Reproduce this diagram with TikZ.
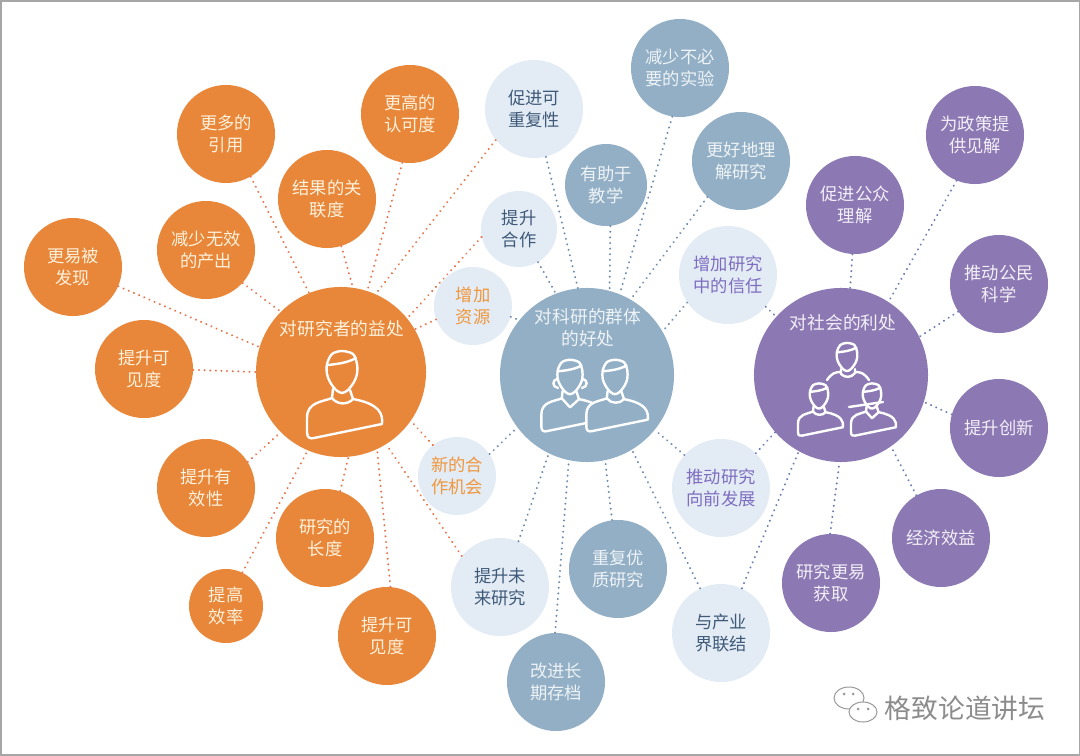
\documentclass[tikz,border=0pt]{standalone}
\usepackage{fontspec}
\usepackage{xcolor}
\newfontfamily\cjk{Noto Sans CJK SC}
\usetikzlibrary{positioning, calc}

\definecolor{orangemain}{HTML}{E8863A}
\definecolor{bluemain}{HTML}{92AFC6}
\definecolor{purplemain}{HTML}{8C79B3}
\definecolor{lightmain}{HTML}{E3ECF5}
\definecolor{orangetext}{HTML}{FFF2DC}
\definecolor{bluetext}{HTML}{EEF3F6}
\definecolor{purpletext}{HTML}{F3EFF8}
\definecolor{darktext}{HTML}{3F5A78}
\definecolor{lightorange}{HTML}{F0963C}
\definecolor{lightpurple}{HTML}{7E6DC0}
\definecolor{orangeline}{HTML}{E8744A}
\definecolor{blueline}{HTML}{6E8DAE}
\definecolor{purpleline}{HTML}{6B7DB0}

\newcommand{\headshape}{
  \path[icon, pic actions] plot[smooth cycle] coordinates {(-15,-8) (-10,-18) (0,-21) (11,-18) (15,-8) (15,2) (12,10) (6,18) (0,21) (-6,18) (-12,10) (-15,2)};
  \path[icon] (-14,-7) .. controls (-5,-8) and (5,-9) .. (14,-14);
}
\newcommand{\bodyshape}[1]{
  \path[icon, pic actions] (-10,26) .. controls (-20,30) and (-35,30) .. (-35,46) -- (-35,60) .. controls (-35,66) and (-32,67) .. (-28,66) -- (40,52) .. controls (41,42) and (38,32) .. (11,27) #1 (-10,26) -- cycle;
  \path[icon] (-9,17) -- (-10,26) (8,18) -- (11,27);
}

\begin{document}
\begin{tikzpicture}[
  x=0.025cm, y=-0.025cm,
  circ/.style={circle, inner sep=0pt, minimum size=2.45cm, align=center, font=\cjk\fontsize{12.3}{15.6}\selectfont},
  orangenode/.style={circ, fill=orangemain, text=orangetext},
  bluenode/.style={circ, fill=bluemain, text=bluetext},
  purplenode/.style={circ, fill=purplemain, text=purpletext},
  lightnode/.style={circ, fill=lightmain, text=darktext},
  titletext/.style={align=center, inner sep=0pt, font=\cjk\fontsize{12.6}{15.6}\selectfont},
  dots/.style={line width=1.5pt, line cap=round, dash pattern=on 0.1pt off 3.9pt},
  dotorange/.style={dots, color=orangeline},
  dotblue/.style={dots, color=blueline},
  dotpurple/.style={dots, color=purpleline},
  icon/.style={draw=white, line width=1.7pt, line join=round, line cap=round},
  personhead/.pic={\headshape},
  person/.pic={\bodyshape{.. controls (6,33) and (-5,33) ..}\headshape},
  personv/.pic={\bodyshape{-- (0,37) --}\headshape},
]

\useasboundingbox (0,0) rectangle (1080,756);
\fill[gray!70] (0,0) rectangle (1080,756);
\fill[white] (2,2) rectangle (1079,754);

% ================= orange group =================
\node[orangenode, minimum size=4.25cm] (researcher) at (341,372) {};
\node[orangenode] (recognition) at (410,114) {更高的\\认可度};
\node[orangenode] (citations) at (226,134) {更多的\\引用};
\node[orangenode] (relevance) at (327,199) {结果的关\\联度};
\node[orangenode] (waste) at (206,250) {减少无效\\的产出};
\node[orangenode] (discover) at (73,267) {更易被\\发现};
\node[orangenode] (visible) at (144,369) {提升可\\见度};
\node[orangenode] (validity) at (206,488) {提升有\\效性};
\node[orangenode] (length) at (325,538) {研究的\\长度};
\node[orangenode, minimum size=1.85cm] (efficiency) at (226,606) {提高\\效率};
\node[orangenode] (visibletwo) at (387,636) {提升可\\见度};

% ================= blue group =================
\node[bluenode, minimum size=4.35cm] (community) at (587,375) {};
\node[bluenode] (experiments) at (680,68) {减少不必\\要的实验};
\node[bluenode] (understand) at (741,161) {更好地理\\解研究};
\node[bluenode, minimum size=2.05cm] (teaching) at (606,185) {有助于\\教学};
\node[bluenode] (repeat) at (618,569) {重复优\\质研究};
\node[bluenode] (archive) at (556,682) {改进长\\期存档};

% ================= purple group =================
\node[purplenode, minimum size=4.35cm] (society) at (841,375) {};
\node[purplenode] (policy) at (975,135) {为政策提\\供见解};
\node[purplenode] (public) at (855,205) {促进公众\\理解};
\node[purplenode] (citizen) at (999,284) {推动公民\\科学};
\node[purplenode] (innovation) at (999,428) {提升创新};
\node[purplenode] (economy) at (941,538) {经济效益};
\node[purplenode] (access) at (831,583) {研究更易\\获取};

% ================= shared nodes =================
\node[lightnode] (reproduce) at (534,109) {促进可\\重复性};
\node[lightnode, minimum size=1.9cm] (collab) at (519,229) {提升\\合作};
\node[lightnode, minimum size=1.95cm, text=lightorange] (resources) at (473,306) {增加\\资源};
\node[lightnode, text=lightpurple] (trust) at (728,275) {增加研究\\中的信任};
\node[lightnode, minimum size=1.95cm, text=lightorange] (chance) at (457,476) {新的合\\作机会};
\node[lightnode] (future) at (500,587) {提升未\\来研究};
\node[lightnode, text=lightpurple] (forward) at (721,488) {推动研究\\向前发展};
\node[lightnode] (industry) at (721,633) {与产业\\界联结};

% ================= titles =================
\node[titletext, text=orangetext] (researchertitle) at (342,329) {对研究者的益处};
\node[titletext, text=bluetext] (communitytitle) at (588,328) {对科研的群体\\的好处};
\node[titletext, text=purpletext] (societytitle) at (843,323) {对社会的利处};

% ================= orange connectors =================
\draw[dotorange] (citations.-60) -- (researcher.112);
\draw[dotorange] (discover.-23) -- (researcher.163);
\draw[dotorange] (visible.-1) -- (researcher.180);
\draw[dotorange] (waste.-42) -- (researcher.135);
\draw[dotorange] (relevance.-73) -- (researcher.82);
\draw[dotorange] (recognition.-99) -- (researcher.72);
\draw[dotorange] (reproduce.-141) -- (researcher.66);
\draw[dotorange] (collab.-168) -- (researcher.39);
\draw[dotorange] (resources.-160) -- (researcher.30);
\draw[dotorange] (chance.128) -- (researcher.-35);
\draw[dotorange] (future.141) -- (researcher.-58);
\draw[dotorange] (visibletwo.86) -- (researcher.-65);
\draw[dotorange] (length.72) -- (researcher.-85);
\draw[dotorange] (efficiency.64) -- (researcher.-113);
\draw[dotorange] (validity.32) -- (researcher.-135);

% ================= blue connectors =================
\draw[dotblue] (reproduce.-76) -- (community.96);
\draw[dotblue] (experiments.-99) -- (community.68);
\draw[dotblue] (teaching.-84) -- (community.75);
\draw[dotblue] (understand.-133) -- (community.60);
\draw[dotblue] (collab.-60) -- (community.111);
\draw[dotblue] (resources.-16) -- (community.141);
\draw[dotblue] (trust.-146) -- (community.30);
\draw[dotblue] (chance.34) -- (community.-143);
\draw[dotblue] (future.68) -- (community.-116);
\draw[dotblue] (archive.91) -- (community.-102);
\draw[dotblue] (repeat.97) -- (community.-78);
\draw[dotblue] (industry.115) -- (community.-59);
\draw[dotblue] (forward.138) -- (community.-39);

% ================= purple connectors =================
\draw[dotpurple] (trust.-40) -- (society.138);
\draw[dotpurple] (public.-93) -- (society.84);
\draw[dotpurple] (policy.-112) -- (society.57);
\draw[dotpurple] (citizen.-146) -- (society.26);
\draw[dotpurple] (innovation.164) -- (society.-18);
\draw[dotpurple] (forward.45) -- (society.-139);
\draw[dotpurple] (industry.65) -- (society.-119);
\draw[dotpurple] (access.91) -- (society.-91);
\draw[dotpurple] (economy.120) -- (society.-55);

% ================= icons =================
\path (342,372) pic {person};

\path (570,377) pic[scale=0.82, fill=bluemain] {personv};
\draw[icon] (557,379) .. controls (552,380) and (552,387) .. (558,388);
\draw[icon] (583,379) .. controls (588,380) and (588,387) .. (582,388);
\path (615,377) pic[scale=0.82, fill=bluemain] {person};

\path (847,357) pic[scale=0.67] {personhead};
\draw[icon] (841,369) -- (841,374) .. controls (845,378) and (851,378) .. (855,373) -- (855,369);
\draw[icon] (827,380) .. controls (832,373) and (835,372) .. (841,372);
\draw[icon] (855,372) .. controls (861,372) and (864,373) .. (869,380);
\path (819,396) pic[scale=0.6, fill=purplemain] {person};
\path (872,396) pic[scale=0.6, fill=purplemain] {personv};
\draw[icon] (849,407) -- (883,402);

% ================= watermark =================
\filldraw[draw=gray!80, fill=white, line width=0.7pt] (849,698) ellipse (15 and 11);
\filldraw[draw=gray!80, fill=white, line width=0.7pt] (863,712) ellipse (14 and 10);
\fill[gray!80] (844,694) circle (1.5) (853,694) circle (1.5) (858,709) circle (1.5) (868,709) circle (1.5);
\node[inner sep=0pt, text=gray!90, font=\cjk\fontsize{19}{19}\selectfont] (mark) at (965,708) {格致论道讲坛};

\end{tikzpicture}
\end{document}
